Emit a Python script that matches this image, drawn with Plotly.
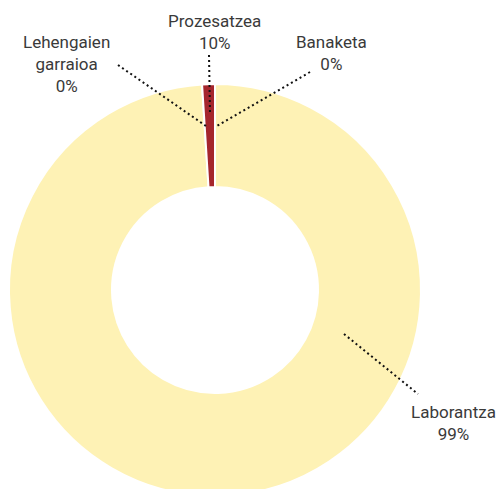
import plotly.graph_objects as go

# Data
categories = ["Laborantza", "Prozesatzea", "Banaketa", "Lehengaien garraioa"]
values = [99, 1, 0, 0]
value_labels = ["99%", "10%", "0%", "0%"]
colors = ["#FEF2B5", "#A5262D", "#FEF2B5", "#FEF2B5"]

W, H = 500, 500
cx, cy, R = 215, 290, 206  # pixel layout of donut


def px(x):
    return x / W


def py(y):
    return 1 - y / H


fig = go.Figure()
fig.add_trace(go.Pie(
    labels=categories, values=values, hole=0.5, sort=False,
    direction="clockwise", rotation=0,
    marker=dict(colors=colors, line=dict(color="white", width=2)),
    textinfo="none", hoverinfo="label+percent", showlegend=False,
    domain=dict(x=[px(cx - R), px(cx + R)], y=[py(cy + R), py(cy - R)]),
))

# leader lines (pixel layout) and label positions
leaders = {
    "Laborantza": ((344, 334), (418, 394)),
    "Prozesatzea": ((209, 55), (210, 114)),
    "Banaketa": ((310, 72), (217, 126)),
    "Lehengaien garraioa": ((118, 65), (206, 126)),
}
label_pos = {
    "Laborantza": (453, 423, "Laborantza"),
    "Prozesatzea": (214, 32, "Prozesatzea"),
    "Banaketa": (331, 53, "Banaketa"),
    "Lehengaien garraioa": (66, 64, "Lehengaien<br>garraioa"),
}

for cat, lab in zip(categories, value_labels):
    (x0, y0), (x1, y1) = leaders[cat]
    fig.add_shape(type="line", xref="paper", yref="paper",
                  x0=px(x0), y0=py(y0), x1=px(x1), y1=py(y1),
                  line=dict(color="#111111", width=2, dash="2px,3px"))
    lx, ly, txt = label_pos[cat]
    fig.add_annotation(xref="paper", yref="paper", x=px(lx), y=py(ly),
                       text=f"{txt}<br>{lab}", showarrow=False,
                       xanchor="center", yanchor="middle", align="center",
                       font=dict(family="Roboto", size=17, color="#3a3a3a"))

fig.update_layout(width=W, height=H, margin=dict(l=0, r=0, t=0, b=0),
                  paper_bgcolor="white", plot_bgcolor="white")

fig.write_html("out.html", config={"displayModeBar": False},
               post_script="document.body.style.margin='0';document.body.style.overflow='hidden';")
